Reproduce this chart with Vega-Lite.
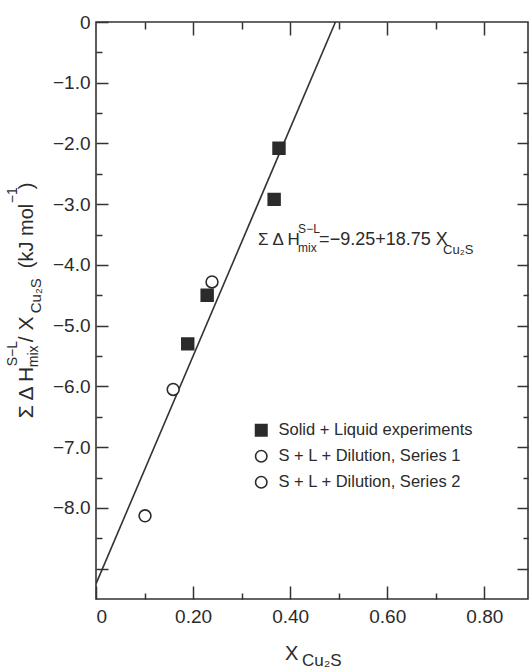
{
  "$schema": "https://vega.github.io/schema/vega-lite/v6.json",
  "width": 432,
  "height": 577,
  "autosize": {"type": "none"},
  "padding": {"left": 96, "top": 22, "right": 1, "bottom": 70},
  "background": "white",
  "config": {
    "font": "Liberation Sans",
    "view": {"stroke": "#333", "strokeWidth": 1.6},
    "text": {"font": "Liberation Sans", "color": "#2b2b2b"},
    "axis": {
      "domain": false,
      "grid": false,
      "tickColor": "#333",
      "tickWidth": 1.5,
      "labelColor": "#2b2b2b",
      "labelFont": "Liberation Sans",
      "labelFontSize": 19,
      "title": null
    },
    "legend": {
      "orient": "none",
      "legendX": 157,
      "legendY": 400,
      "title": null,
      "labelFont": "Liberation Sans",
      "labelFontSize": 16.5,
      "labelColor": "#2b2b2b",
      "labelLimit": 400,
      "symbolSize": 130,
      "symbolStrokeWidth": 1.6,
      "rowPadding": 7,
      "labelOffset": 9,
      "padding": 0
    }
  },
  "datasets": {
    "fit": [
      {"x": 0, "y": -9.25},
      {"x": 0.4933, "y": 0}
    ],
    "obs": [
      {"x": 0.377, "y": -2.08, "series": "Solid + Liquid  experiments"},
      {"x": 0.367, "y": -2.92, "series": "Solid + Liquid  experiments"},
      {"x": 0.229, "y": -4.5, "series": "Solid + Liquid  experiments"},
      {"x": 0.189, "y": -5.3, "series": "Solid + Liquid  experiments"},
      {"x": 0.239, "y": -4.28, "series": "S + L + Dilution, Series 1"},
      {"x": 0.159, "y": -6.05, "series": "S + L + Dilution, Series 1"},
      {"x": 0.101, "y": -8.13, "series": "S + L + Dilution, Series 2"}
    ]
  },
  "data": {"values": [{}]},
  "layer": [
    {
      "data": {"name": "fit"},
      "mark": {"type": "line", "color": "#333", "strokeWidth": 1.6, "clip": true},
      "encoding": {
        "x": {
          "field": "x", "type": "quantitative",
          "scale": {"domain": [0, 0.89], "nice": false, "zero": false},
          "axis": {"orient": "bottom", "values": [0, 0.2, 0.4, 0.6, 0.8], "tickSize": -13, "labelPadding": 21,
                   "labelExpr": "datum.value == 0 ? '0' : format(datum.value, '.2f')"}
        },
        "y": {
          "field": "y", "type": "quantitative",
          "scale": {"domain": [-9.5, 0], "nice": false, "zero": false},
          "axis": {"orient": "left", "values": [0, -1, -2, -3, -4, -5, -6, -7, -8, -9], "tickSize": -12, "labelPadding": 18,
                   "labelExpr": "datum.value == 0 ? '0' : datum.value < -8.5 ? '' : replace(format(datum.value, '.1f'), '-', '−')"}
        }
      }
    },
    {
      "data": {"name": "obs"},
      "mark": {"type": "point", "filled": true, "size": 140, "strokeWidth": 1.6, "opacity": 1},
      "encoding": {
        "x": {"field": "x", "type": "quantitative",
              "axis": {"orient": "top", "values": [0.2, 0.4, 0.6, 0.8], "tickSize": -13, "labels": false}},
        "y": {"field": "y", "type": "quantitative",
              "axis": {"orient": "right", "values": [-1, -2, -3, -4, -5, -6, -7, -8, -9], "tickSize": -11, "labels": false}},
        "shape": {"field": "series", "type": "nominal",
                  "scale": {"domain": ["Solid + Liquid  experiments", "S + L + Dilution, Series 1", "S + L + Dilution, Series 2"],
                            "range": ["square", "circle", "circle"]}},
        "fill": {"field": "series", "type": "nominal",
                 "scale": {"domain": ["Solid + Liquid  experiments", "S + L + Dilution, Series 1", "S + L + Dilution, Series 2"],
                           "range": ["#2b2b2b", "#ffffff", "#ffffff"]}},
        "stroke": {"field": "series", "type": "nominal",
                   "scale": {"domain": ["Solid + Liquid  experiments", "S + L + Dilution, Series 1", "S + L + Dilution, Series 2"],
                             "range": ["#2b2b2b", "#2b2b2b", "#2b2b2b"]}}
      }
    },
    {
      "mark": {"type": "text", "text": "Σ Δ H", "align": "left", "baseline": "alphabetic", "fontSize": 17},
      "encoding": {
        "x": {"datum": 0.334, "type": "quantitative",
              "axis": {"orient": "bottom", "values": [0.1, 0.3, 0.5, 0.7], "tickSize": -6, "labels": false}},
        "y": {"datum": -3.67, "type": "quantitative",
              "axis": {"orient": "left", "values": [-0.5, -1.5, -2.5, -3.5, -4.5, -5.5, -6.5, -7.5, -8.5], "tickSize": -6, "labels": false}}
      }
    },
    {
      "mark": {"type": "text", "text": "S−L", "align": "left", "baseline": "alphabetic", "fontSize": 12, "dx": 40, "dy": -12},
      "encoding": {
        "x": {"datum": 0.334, "type": "quantitative",
              "axis": {"orient": "top", "values": [0.1, 0.3, 0.5, 0.7], "tickSize": -7, "labels": false}},
        "y": {"datum": -3.67, "type": "quantitative",
              "axis": {"orient": "right", "values": [-0.5, -1.5, -2.5, -3.5, -4.5, -5.5, -6.5, -7.5, -8.5], "tickSize": -5, "labels": false}}
      }
    },
    {
      "mark": {"type": "text", "text": "mix", "align": "left", "baseline": "alphabetic", "fontSize": 12, "dx": 40, "dy": 7},
      "encoding": {
        "x": {"datum": 0.334, "type": "quantitative", "axis": null},
        "y": {"datum": -3.67, "type": "quantitative", "axis": null}
      }
    },
    {
      "mark": {"type": "text", "text": "=−9.25+18.75 X", "align": "left", "baseline": "alphabetic", "fontSize": 18, "dx": 61},
      "encoding": {
        "x": {"datum": 0.334, "type": "quantitative", "axis": null},
        "y": {"datum": -3.67, "type": "quantitative", "axis": null}
      }
    },
    {
      "mark": {"type": "text", "text": "Cu₂S", "align": "left", "baseline": "alphabetic", "fontSize": 13, "dx": 185, "dy": 9},
      "encoding": {
        "x": {"datum": 0.334, "type": "quantitative", "axis": null},
        "y": {"datum": -3.67, "type": "quantitative", "axis": null}
      }
    },
    {
      "mark": {"type": "text", "text": "X", "align": "left", "baseline": "alphabetic", "fontSize": 20, "dx": 189, "dy": 61, "clip": false},
      "encoding": {
        "x": {"datum": 0, "type": "quantitative", "axis": null},
        "y": {"datum": -9.5, "type": "quantitative", "axis": null}
      }
    },
    {
      "mark": {"type": "text", "text": "Cu₂S", "align": "left", "baseline": "alphabetic", "fontSize": 17, "dx": 206, "dy": 67},
      "encoding": {
        "x": {"datum": 0, "type": "quantitative", "axis": null},
        "y": {"datum": -9.5, "type": "quantitative", "axis": null}
      }
    },
    {
      "mark": {"type": "text", "text": "Σ Δ H", "angle": 270, "align": "left", "baseline": "alphabetic", "fontSize": 21, "dx": 2, "dy": -63},
      "encoding": {
        "x": {"datum": 0, "type": "quantitative", "axis": null},
        "y": {"datum": -6.557, "type": "quantitative", "axis": null}
      }
    },
    {
      "mark": {"type": "text", "text": "S−L", "angle": 270, "align": "left", "baseline": "alphabetic", "fontSize": 14, "dx": 54, "dy": -79},
      "encoding": {
        "x": {"datum": 0, "type": "quantitative", "axis": null},
        "y": {"datum": -6.557, "type": "quantitative", "axis": null}
      }
    },
    {
      "mark": {"type": "text", "text": "mix", "angle": 270, "align": "left", "baseline": "alphabetic", "fontSize": 14, "dx": 53, "dy": -58},
      "encoding": {
        "x": {"datum": 0, "type": "quantitative", "axis": null},
        "y": {"datum": -6.557, "type": "quantitative", "axis": null}
      }
    },
    {
      "mark": {"type": "text", "text": "/ X", "angle": 270, "align": "left", "baseline": "alphabetic", "fontSize": 21, "dx": 78, "dy": -63},
      "encoding": {
        "x": {"datum": 0, "type": "quantitative", "axis": null},
        "y": {"datum": -6.557, "type": "quantitative", "axis": null}
      }
    },
    {
      "mark": {"type": "text", "text": "Cu₂S", "angle": 270, "align": "left", "baseline": "alphabetic", "fontSize": 15, "dx": 107, "dy": -55},
      "encoding": {
        "x": {"datum": 0, "type": "quantitative", "axis": null},
        "y": {"datum": -6.557, "type": "quantitative", "axis": null}
      }
    },
    {
      "mark": {"type": "text", "text": "(kJ mol", "angle": 270, "align": "left", "baseline": "alphabetic", "fontSize": 20, "dx": 152, "dy": -63},
      "encoding": {
        "x": {"datum": 0, "type": "quantitative", "axis": null},
        "y": {"datum": -6.557, "type": "quantitative", "axis": null}
      }
    },
    {
      "mark": {"type": "text", "text": "−1", "angle": 270, "align": "left", "baseline": "alphabetic", "fontSize": 14, "dx": 217, "dy": -79},
      "encoding": {
        "x": {"datum": 0, "type": "quantitative", "axis": null},
        "y": {"datum": -6.557, "type": "quantitative", "axis": null}
      }
    },
    {
      "mark": {"type": "text", "text": ")", "angle": 270, "align": "left", "baseline": "alphabetic", "fontSize": 20, "dx": 231, "dy": -63},
      "encoding": {
        "x": {"datum": 0, "type": "quantitative", "axis": null},
        "y": {"datum": -6.557, "type": "quantitative", "axis": null}
      }
    }
  ],
  "resolve": {"axis": {"x": "independent", "y": "independent"}}
}
